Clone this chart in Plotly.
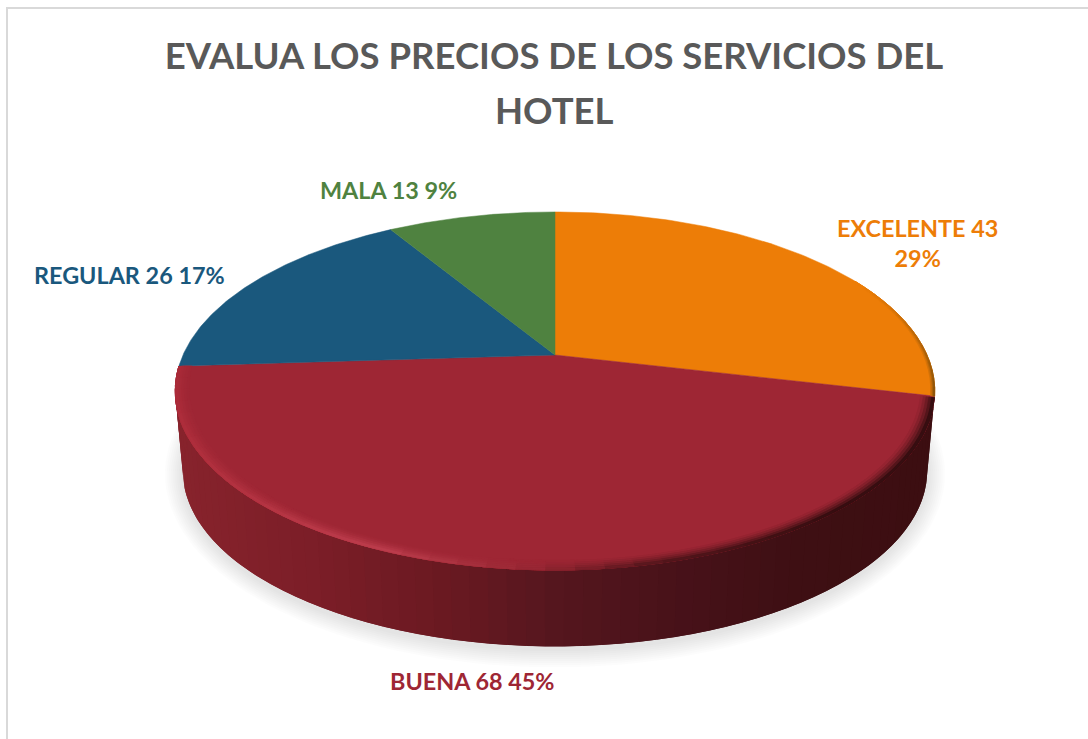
import numpy as np
import plotly.graph_objects as go

# data
categories = ["EXCELENTE", "BUENA", "REGULAR", "MALA"]
counts = [43, 68, 26, 13]
percents = [29, 45, 17, 9]
slice_colors = ["#ED7D07", "#9E2634", "#1A587D", "#4F8240"]
title_lines = ["EVALUA LOS PRECIOS DE LOS SERVICIOS DEL", "HOTEL"]

# 3D look of the pie: perspective tilt of the disc, in page pixels
CX, CY = 555, 355
A, B, K = 372, 171.8, 0.201
EY = 391          # middle of the drawn ellipse
DROP, SHRINK = 80, 0.98


def top_xy(theta, r=1.0):
    # theta in degrees, clockwise from 12 o'clock
    t = np.radians(theta)
    u, v = r * np.sin(t), r * np.cos(t)
    d = 1 + K * v
    return CX + A * u / d, CY - B * v / d


def bottom_xy(theta):
    x, y = top_xy(theta)
    return CX + SHRINK * (x - CX), EY + SHRINK * (y - EY) + DROP


def mix(c1, c2, w):
    return tuple(c1[i] * (1 - w) + c2[i] * w for i in range(3))


def rgb(c):
    return "rgb(%d,%d,%d)" % tuple(round(v) for v in c)


def poly(fig, xs, ys, color):
    fig.add_trace(go.Scatter(x=xs, y=ys, mode="lines", fill="toself", fillcolor=color,
                             line=dict(color=color, width=0.6), hoverinfo="skip", showlegend=False))


def ramp(pos, stops):
    return tuple(np.interp(pos, stops[0], [s[i] for s in stops[1]]) for i in range(3))


fig = go.Figure()

# angles of the slices from the counts
edges = np.cumsum([0] + counts) / sum(counts) * 360

# soft shadow under the disc
for grow in range(18, 0, -2):
    th = np.linspace(0, 360, 181)
    bx, by = bottom_xy(th)
    sx = CX + (bx - CX) * (1 + grow / 372)
    sy = EY + DROP + (by - EY - DROP) * (1 + grow / 175) + 3
    fig.add_trace(go.Scatter(x=sx, y=sy, mode="lines", fill="toself", fillcolor="rgba(0,0,0,0.012)",
                             line=dict(width=0), hoverinfo="skip", showlegend=False))

# side wall, shaded strip by strip (only the BUENA slice shows at the front)
side_stops = ([180, 300, 450, 555, 700, 800, 930],
              [(135, 35, 44), (125, 30, 40), (105, 25, 33), (85, 22, 30), (70, 17, 24), (62, 15, 19), (60, 14, 17)])
wall = np.linspace(edges[1], edges[2], 70)
step = wall[1] - wall[0]
for a0 in wall[:-1]:
    # each strip runs under the next one so no seams show
    th = np.linspace(a0, min(a0 + 2 * step, edges[2]), 4)
    x0, y0 = top_xy(th)
    x1, y1 = bottom_xy(th)
    col = ramp(top_xy(a0 + step / 2)[0], side_stops)
    fig.add_trace(go.Scatter(x=np.r_[x0, x1[::-1]], y=np.r_[y0, y1[::-1]], mode="lines", fill="toself",
                             fillcolor=rgb(col), line=dict(width=0), hoverinfo="skip", showlegend=False))

# top faces
for i, name in enumerate(categories):
    th = np.linspace(edges[i], edges[i + 1], 120)
    x, y = top_xy(th)
    fig.add_trace(go.Scatter(x=np.r_[CX, x, CX], y=np.r_[CY, y, CY], mode="lines", fill="toself",
                             fillcolor=slice_colors[i], line=dict(color=slice_colors[i], width=0.5),
                             name=name, text="%s %d %d%%" % (name, counts[i], percents[i]),
                             hoverinfo="text", showlegend=False))

# bevel along the rim of the BUENA slice
red = (158, 38, 52)
edge_stops = ([103, 140, 165, 180, 200, 225, 250, 266],
              [(55, 14, 17), (55, 14, 17), (85, 22, 28), (150, 38, 50), (188, 60, 76), (178, 50, 64), (172, 44, 58), (168, 42, 56)])
layers = [0.965, 0.972, 0.979, 0.986, 0.993]
rim = np.linspace(edges[1] + 0.4, edges[2] - 0.2, 45)
rim_step = rim[1] - rim[0]
for n, r0 in enumerate(layers):
    w = ((n + 1) / len(layers)) ** 1.5
    for a0 in rim[:-1]:
        th = np.linspace(a0, min(a0 + 2 * rim_step, rim[-1]), 4)
        xa, ya = top_xy(th, r0)
        xb, yb = top_xy(th, 1.0)
        poly(fig, np.r_[xa, xb[::-1]], np.r_[ya, yb[::-1]], rgb(mix(red, ramp(a0, edge_stops), w)))

# thin dark bevel on the orange slice, fading out towards the top
orange = (237, 125, 7)
fade = np.linspace(62, edges[1], 16)
for n, r0 in enumerate([0.99, 0.994, 0.997]):
    for a0, a1 in zip(fade[:-1], fade[1:]):
        w = (n + 1) / 3 * (a0 - fade[0]) / (fade[-1] - fade[0])
        th = np.linspace(a0, a1, 4)
        xa, ya = top_xy(th, r0)
        xb, yb = top_xy(th, 1.0)
        poly(fig, np.r_[xa, xb[::-1]], np.r_[ya, yb[::-1]], rgb(mix(orange, (130, 80, 10), w)))

label_pos = {"EXCELENTE": (917, 243), "BUENA": (472, 681), "REGULAR": (129, 275), "MALA": (388, 190)}
for i, name in enumerate(categories):
    if name == "EXCELENTE":
        text = "<b>%s %d<br>%d%%</b>" % (name, counts[i], percents[i])
    else:
        text = "<b>%s %d %d%%</b>" % (name, counts[i], percents[i])
    lx, ly = label_pos[name]
    fig.add_annotation(x=lx, y=ly, xref="x", yref="y", text=text, showarrow=False,
                       font=dict(family="Lato", size=23.4, color=slice_colors[i]))

fig.add_annotation(x=554, y=110, xref="x", yref="y", text="<b>%s</b>" % title_lines[1], showarrow=False,
                   font=dict(family="Lato", size=36.5, color="#595959"))

fig.update_layout(
    title=dict(text="<b>%s</b>" % title_lines[0], x=554 / 1088, xanchor="center", y=1 - 56 / 739, yanchor="middle",
               font=dict(family="Lato", size=36.5, color="#595959")),
    width=1088, height=739, margin=dict(l=0, r=0, t=0, b=0),
    paper_bgcolor="white", plot_bgcolor="white", showlegend=False,
    xaxis=dict(range=[0, 1088], visible=False, fixedrange=True),
    yaxis=dict(range=[739, 0], visible=False, fixedrange=True),
    shapes=[dict(type="rect", xref="x", yref="y", x0=7, y0=8, x1=1095, y1=750,
                 line=dict(color="#D9D9D9", width=2), layer="below")],
)

# the page's default body margin would push the chart 8px in
fig.write_html("out.html", config={"displayModeBar": False}, post_script="document.body.style.margin='0';")
